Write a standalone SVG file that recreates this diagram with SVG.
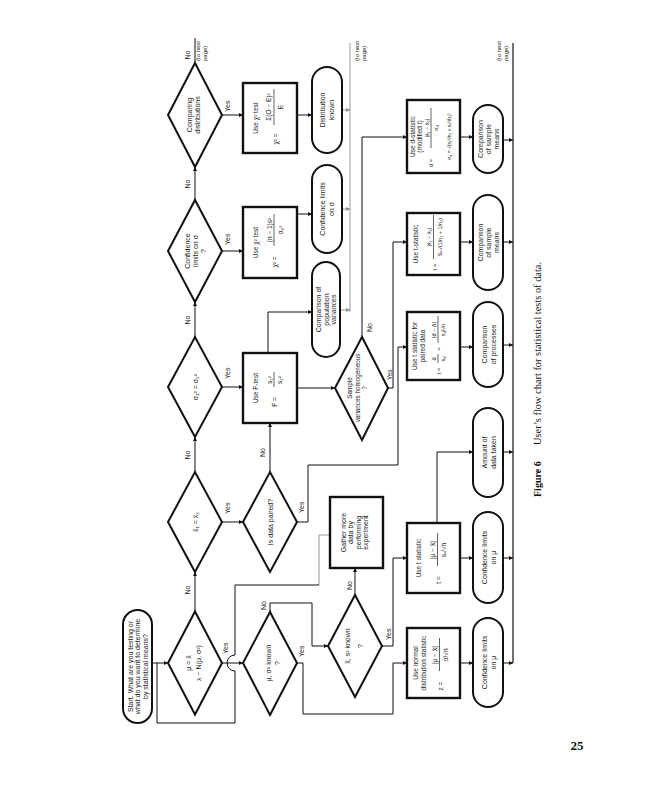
<svg xmlns="http://www.w3.org/2000/svg" width="647" height="800" viewBox="0 0 647 800">
<defs>
<style>
.t{font-family:"Liberation Sans","DejaVu Sans",sans-serif;font-size:7px;fill:#222;text-anchor:middle}
.s{font-family:"Liberation Sans","DejaVu Sans",sans-serif;font-size:6.5px;fill:#222;text-anchor:middle}
.m{font-family:"Liberation Sans","DejaVu Sans",sans-serif;font-size:5.5px;fill:#222;text-anchor:middle}
.l{font-family:"Liberation Sans","DejaVu Sans",sans-serif;font-size:7px;fill:#222}
.n{font-family:"Liberation Sans","DejaVu Sans",sans-serif;font-size:6px;fill:#222}
.dia{fill:#fff;stroke:#111;stroke-width:2}
.box{fill:#fff;stroke:#111;stroke-width:2.4}
.ov{fill:#fff;stroke:#111;stroke-width:2}
.c{fill:none;stroke:#111;stroke-width:1}
.a{fill:none;stroke:#111;stroke-width:1;marker-end:url(#ah)}
.g{fill:none;stroke:#999;stroke-width:1}
.fr{stroke:#222;stroke-width:0.7}
</style>
<marker id="ah" viewBox="0 0 6 6" refX="6" refY="3" markerWidth="4" markerHeight="4" orient="auto" markerUnits="userSpaceOnUse"><path d="M0,0 L6,3 L0,6 z" fill="#111"/></marker>
<marker id="ahg" viewBox="0 0 6 6" refX="6" refY="3" markerWidth="4" markerHeight="4" orient="auto" markerUnits="userSpaceOnUse"><path d="M0,0 L6,3 L0,6 z" fill="#888"/></marker>
</defs>
<rect width="647" height="800" fill="#fff"/>
<g id="diagram" transform="translate(0,800) rotate(-90)">
<g id="connectors">
<path class="a" d="M188.5,195 H228"/>
<path class="a" d="M328,195 H363"/>
<path class="a" d="M463,195 H498"/>
<path class="a" d="M600,195 H633"/>
<path class="c" d="M737,195 H762"/>
<path class="a" d="M137,222 V243"/>
<path class="a" d="M278,222 V243"/>
<path class="a" d="M413,222 V243"/>
<path class="a" d="M549,222 V243"/>
<path class="a" d="M685,222 V243"/>
<path class="g" d="M265,330 V319 H215"/>
<path class="a" d="M215,319 V235 H145 A8,8 0 0 0 129,235 H77 V157 H137 V168"/>
<path class="c" d="M137,152 V157"/>
<path class="a" d="M188,270 H197 V312 H154 V328"/>
<path class="a" d="M137,297 V303 H86 V393 H137 V407"/>
<path class="a" d="M154,382 V393 H242 V407"/>
<path class="a" d="M205,355 H232"/>
<path class="a" d="M328,270 H377"/>
<path class="a" d="M278,297 V308 H335 V398 H453 V407"/>
<path class="a" d="M412,297 V335"/>
<path class="a" d="M447,268 H488 V312"/>
<path class="a" d="M412,388 V393 H558 V407"/>
<path class="a" d="M463,362 H663 V407"/>
<path class="a" d="M586,297 V312"/>
<path class="a" d="M685,297 V312"/>
<path class="a" d="M137,460 V473"/>
<path class="a" d="M242,460 V473"/>
<path class="a" d="M277,437 H348 V473"/>
<path class="a" d="M453,460 V473"/>
<path class="a" d="M558,460 V473"/>
<path class="a" d="M663,460 V473"/>
<path class="a" d="M137,503 V513"/>
<path class="a" d="M242,503 V513"/>
<path class="a" d="M348,503 V513"/>
<path class="a" d="M455,503 V513"/>
<path class="a" d="M558,503 V513"/>
<path class="a" d="M660,503 V513"/>
<path class="c" d="M137,513 H757" style="stroke-width:1.2"/>
<path class="g" d="M488,350 H757"/>
<path class="g" d="M490,340 V350" style="marker-end:url(#ahg)"/>
<path class="g" d="M591,342 V350" style="marker-end:url(#ahg)"/>
<path class="g" d="M690,342 V350" style="marker-end:url(#ahg)"/>
<text class="l" x="210" y="190" text-anchor="middle">No</text>
<text class="l" x="345" y="190" text-anchor="middle">No</text>
<text class="l" x="480" y="190" text-anchor="middle">No</text>
<text class="l" x="616" y="190" text-anchor="middle">No</text>
<text class="l" x="745" y="190" text-anchor="middle">No</text>
<text class="n" x="739" y="200">(to next</text>
<text class="n" x="739" y="206.5">page)</text>
<text class="n" x="739" y="359">(to next</text>
<text class="n" x="739" y="365.5">page)</text>
<text class="n" x="739" y="501">(to next</text>
<text class="n" x="739" y="507.5">page)</text>
<text class="l" x="146" y="228">Yes</text>
<text class="l" x="286" y="230">Yes</text>
<text class="l" x="421" y="230">Yes</text>
<text class="l" x="555" y="230">Yes</text>
<text class="l" x="688" y="230">Yes</text>
<text class="l" x="143" y="304">Yes</text>
<text class="l" x="287" y="304">Yes</text>
<text class="l" x="160" y="391">Yes</text>
<text class="l" x="420" y="392" style="font-size:6.5px">Yes</text>
<text class="l" x="343" y="265">No</text>
<text class="l" x="190" y="266">No</text>
<text class="l" x="210" y="352">No</text>
<text class="l" x="468" y="372">No</text>
</g>
<g id="start">
<rect class="ov" x="77" y="123" width="113" height="29" rx="14.5"/>
<text class="t" x="133.5" y="132.5">Start. What are you testing or</text>
<text class="t" x="133.5" y="140">what do you want to determine</text>
<text class="t" x="133.5" y="147.5">by statistical means?</text>
</g>
<g id="d1">
<polygon class="dia" points="85.5,195 137,168 188.5,195 137,222"/>
<text class="t" x="137" y="191">μ = x̄</text>
<text class="t" x="137" y="201">x ~ N(μ, σ²)</text>
</g>
<g id="d2">
<polygon class="dia" points="228,195 278,168 328,195 278,222"/>
<text class="t" x="278" y="198">x̄₁ = x̄₂</text>
</g>
<g id="d3">
<polygon class="dia" points="363,195 413,168 463,195 413,222"/>
<text class="t" x="413" y="198">σ₁² = σ₂²</text>
</g>
<g id="d4">
<polygon class="dia" points="498,195 549,168 600,195 549,222"/>
<text class="t" x="549" y="189.5">Confidence</text>
<text class="t" x="549" y="197.5">limits on σ</text>
<text class="t" x="549" y="205.5">?</text>
</g>
<g id="d5">
<polygon class="dia" points="633,195 685,168 737,195 685,222"/>
<text class="t" x="685" y="191.5">Comparing</text>
<text class="t" x="685" y="199.5">distributions</text>
</g>
<g id="d6">
<polygon class="dia" points="85,270 137,243 188,270 137,297"/>
<text class="t" x="137" y="270.5">μ, σ² known</text>
<text class="t" x="137" y="279.5">?</text>
</g>
<g id="d7">
<polygon class="dia" points="228,270 278,243 328,270 278,297"/>
<text class="t" x="278" y="272.5">Is data paired?</text>
</g>
<g id="r1">
<rect class="box" x="377" y="243" width="70" height="54"/>
<text class="s" x="412" y="258">Use F-test</text>
<text class="s" x="398" y="277">F =</text>
<text class="s" x="420" y="271.5">s₁²</text>
<line class="fr" x1="413" y1="274" x2="428" y2="274"/>
<text class="s" x="420" y="282">s₂²</text>
</g>
<g id="r2">
<rect class="box" x="522" y="243" width="71" height="54"/>
<text class="s" x="557.5" y="258">Use χ² test</text>
<text class="s" x="538" y="277">χ² =</text>
<text class="s" x="570" y="271.5">(n − 1)s²</text>
<line class="fr" x1="554" y1="274" x2="586" y2="274"/>
<text class="s" x="570" y="282.5">σ₀²</text>
</g>
<g id="r3">
<rect class="box" x="647" y="243" width="70" height="54"/>
<text class="s" x="682" y="258">Use χ² test</text>
<text class="s" x="661" y="278">χ² =</text>
<text class="s" x="693" y="271">Σ(O − E)²</text>
<line class="fr" x1="675" y1="274" x2="711" y2="274"/>
<text class="s" x="693" y="282.5">E</text>
</g>
<g id="d8">
<polygon class="dia" points="103,355 154,328 205,355 154,382"/>
<text class="t" x="154" y="350">x̄, s² known</text>
<text class="t" x="154" y="363">?</text>
</g>
<g id="gather">
<rect class="box" x="232" y="330" width="71" height="53"/>
<text class="t" x="267.5" y="345.5">Gather more</text>
<text class="t" x="267.5" y="353">data by</text>
<text class="t" x="267.5" y="360.5">performing</text>
<text class="t" x="267.5" y="368">experiment</text>
</g>
<g id="d9">
<polygon class="dia" points="360,362 412,335 463,362 412,388"/>
<text class="t" x="412" y="352" style="font-size:6.3px">Sample</text>
<text class="t" x="412" y="359.5" style="font-size:6.3px">variances homogeneous</text>
<text class="t" x="412" y="367" style="font-size:6.3px">?</text>
</g>
<g id="o-var">
<rect class="ov" x="443" y="312" width="95" height="28" rx="14"/>
<text class="t" x="490.5" y="321">Comparison of</text>
<text class="t" x="490.5" y="328.5">population</text>
<text class="t" x="490.5" y="336">variances</text>
</g>
<g id="o-sigma">
<rect class="ov" x="547" y="312" width="88" height="30" rx="15"/>
<text class="t" x="591" y="325">Confidence limits</text>
<text class="t" x="591" y="334">on σ</text>
</g>
<g id="o-dist">
<rect class="ov" x="647" y="312" width="86" height="30" rx="15"/>
<text class="t" x="690" y="324.5">Distribution</text>
<text class="t" x="690" y="333.5">known</text>
</g>
<g id="r-normal">
<rect class="box" x="102" y="407" width="70" height="53"/>
<text class="s" x="137" y="418">Use normal</text>
<text class="s" x="137" y="426">distribution statistic</text>
<text class="s" x="114" y="443">z =</text>
<text class="s" x="145" y="437">|μ − x̄|</text>
<line class="fr" x1="129" y1="439.5" x2="162" y2="439.5"/>
<text class="s" x="145" y="448">σ/√n</text>
</g>
<g id="r-t1">
<rect class="box" x="207" y="407" width="70" height="53"/>
<text class="s" x="242" y="421">Use t statistic</text>
<text class="s" x="220" y="441">t =</text>
<text class="s" x="250" y="435">|μ − x̄|</text>
<line class="fr" x1="234" y1="437.5" x2="267" y2="437.5"/>
<text class="s" x="250" y="446">sₓ/√n</text>
</g>
<g id="r-paired">
<rect class="box" x="420" y="407" width="68" height="53"/>
<text class="s" x="454" y="417">Use t statistic for</text>
<text class="s" x="454" y="425">paired data</text>
<text class="m" x="429" y="441">t =</text>
<text class="m" x="441" y="436">d̄</text>
<line class="fr" x1="437" y1="438" x2="446" y2="438"/>
<text class="m" x="441" y="445">s<tspan font-size="4" dy="1">d</tspan></text>
<text class="m" x="451" y="441">=</text>
<text class="m" x="470" y="436">|d̄ − Δ|</text>
<line class="fr" x1="457" y1="438" x2="484" y2="438"/>
<text class="m" x="470" y="445">s<tspan font-size="4" dy="1">d</tspan><tspan dy="-1">/√n</tspan></text>
</g>
<g id="r-t2">
<rect class="box" x="525" y="407" width="62" height="53"/>
<text class="s" x="556" y="418">Use t-statistic</text>
<text class="m" x="533" y="437">t =</text>
<text class="m" x="563" y="430.5">|x̄₁ − x̄₂|</text>
<line class="fr" x1="541" y1="433.5" x2="585" y2="433.5"/>
<text class="m" x="563" y="442">Sₚ√(1/n₁ + 1/n₂)</text>
</g>
<g id="r-d">
<rect class="box" x="627" y="407" width="73" height="53"/>
<text class="s" x="663.5" y="414.5">Use d-statistic</text>
<text class="s" x="663.5" y="422">(modified t)</text>
<text class="m" x="637" y="433">d =</text>
<text class="m" x="672" y="428.5">|x̄₁ − x̄₂|</text>
<line class="fr" x1="652" y1="431" x2="692" y2="431"/>
<text class="m" x="672" y="438">σ<tspan font-size="4" dy="1">d</tspan></text>
<text class="m" x="663.5" y="451" style="font-size:5px">σ<tspan font-size="3.5" dy="1">d</tspan><tspan dy="-1"> = √(s₁²/n₁ + s₂²/n₂)</tspan></text>
</g>
<g id="o-mu1">
<rect class="ov" x="93" y="473" width="89" height="30" rx="15"/>
<text class="t" x="137.5" y="486.5">Confidence limits</text>
<text class="t" x="137.5" y="496">on μ</text>
</g>
<g id="o-mu2">
<rect class="ov" x="197" y="473" width="91" height="30" rx="15"/>
<text class="t" x="242.5" y="486.5">Confidence limits</text>
<text class="t" x="242.5" y="496">on μ</text>
</g>
<g id="o-amount">
<rect class="ov" x="303" y="473" width="89" height="30" rx="15"/>
<text class="t" x="347.5" y="486.5">Amount of</text>
<text class="t" x="347.5" y="496">data taken</text>
</g>
<g id="o-proc">
<rect class="ov" x="413" y="473" width="85" height="30" rx="15"/>
<text class="t" x="455.5" y="486.5">Comparison</text>
<text class="t" x="455.5" y="496">of processes</text>
</g>
<g id="o-means1">
<rect class="ov" x="510" y="473" width="95" height="30" rx="15"/>
<text class="t" x="557.5" y="482.5">Comparison</text>
<text class="t" x="557.5" y="490.5">of sample</text>
<text class="t" x="557.5" y="498.5">means</text>
</g>
<g id="o-means2">
<rect class="ov" x="627" y="473" width="68" height="30" rx="15"/>
<text class="t" x="661" y="482.5">Comparison</text>
<text class="t" x="661" y="490.5">of sample</text>
<text class="t" x="661" y="498.5">means</text>
</g>
<g id="caption">
<text x="303" y="541" style="font-family:'Liberation Serif',serif;font-size:10px;font-weight:bold;fill:#111">Figure 6</text>
<text x="355" y="541" textLength="183" lengthAdjust="spacingAndGlyphs" style="font-family:'Liberation Serif',serif;font-size:9.5px;fill:#111">User’s flow chart for statistical tests of data.</text>
</g>
</g>
<text x="577" y="750" text-anchor="middle" style="font-family:'Liberation Serif',serif;font-size:13px;font-weight:bold;fill:#111">25</text>
</svg>
